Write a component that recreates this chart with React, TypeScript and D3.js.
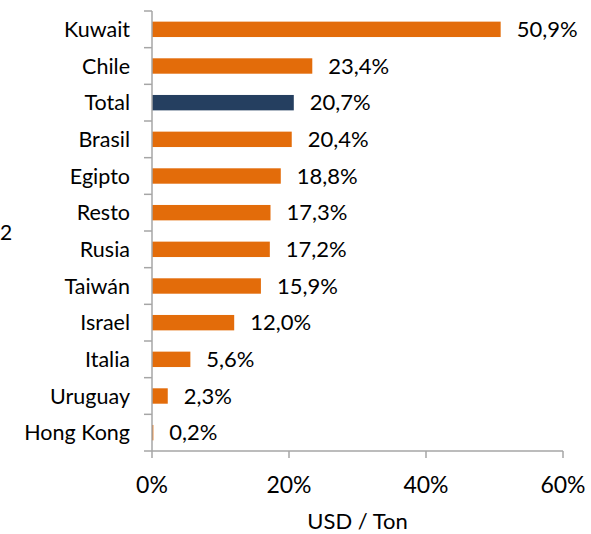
import React, { useEffect, useRef } from 'react';
import * as d3 from 'd3';

// values (percent)
const categories = ['Kuwait', 'Chile', 'Total', 'Brasil', 'Egipto', 'Resto', 'Rusia', 'Taiwán', 'Israel', 'Italia', 'Uruguay', 'Hong Kong'];
const values = [50.9, 23.4, 20.7, 20.4, 18.8, 17.3, 17.2, 15.9, 12.0, 5.6, 2.3, 0.2];
const highlight = ['Total'];
const xTicks = [0, 20, 40, 60];
const xTitle = 'USD / Ton';

const W = 591;
const H = 534;
const FONT = 'Lato, "DejaVu Sans", sans-serif';

export default function App() {
    const ref = useRef<SVGSVGElement>(null);

    useEffect(() => {
        const svg = d3.select(ref.current);
        svg.selectAll('*').remove();

        const x = d3.scaleLinear().domain([0, 60]).range([152, 563]);
        const y = d3.scaleBand().domain(categories).range([11, 451]).paddingInner(0.58).paddingOuter(0.29);
        const step = y.step();
        const grey = '#a6a6a6';

        // bars
        svg.append('g')
            .selectAll('rect')
            .data(categories)
            .enter()
            .append('rect')
            .attr('x', x(0))
            .attr('y', (d) => y(d))
            .attr('width', (d, i) => x(values[i]) - x(0))
            .attr('height', y.bandwidth())
            .attr('fill', (d) => (highlight.includes(d) ? '#253f60' : '#e36c0a'));

        // value labels
        svg.append('g')
            .selectAll('text')
            .data(categories)
            .enter()
            .append('text')
            .attr('x', (d, i) => x(values[i]) + 16)
            .attr('y', (d) => y(d) + y.bandwidth() / 2)
            .attr('dy', '0.35em')
            .style('font-family', FONT)
            .style('font-size', '22px')
            .text((d, i) => values[i].toFixed(1).replace('.', ',') + '%');

        // y axis line + ticks at band edges
        const ax = svg.append('g').attr('stroke', grey).attr('stroke-width', 1.5);
        ax.append('line').attr('x1', x(0)).attr('x2', x(0)).attr('y1', 11).attr('y2', 451);
        d3.range(categories.length + 1).forEach((i) => {
            ax.append('line')
                .attr('x1', x(0) - 8)
                .attr('x2', x(0))
                .attr('y1', 11 + i * step)
                .attr('y2', 11 + i * step);
        });
        // x axis line + ticks
        ax.append('line').attr('x1', x(0)).attr('x2', x(60)).attr('y1', 451).attr('y2', 451);
        xTicks.forEach((t) => {
            ax.append('line').attr('x1', x(t)).attr('x2', x(t)).attr('y1', 451).attr('y2', 458);
        });

        // category labels
        svg.append('g')
            .selectAll('text')
            .data(categories)
            .enter()
            .append('text')
            .attr('x', 130)
            .attr('y', (d) => y(d) + y.bandwidth() / 2)
            .attr('dy', '0.35em')
            .attr('text-anchor', 'end')
            .style('font-family', FONT)
            .style('font-size', '21.5px')
            .text((d) => d);

        // x tick labels
        svg.append('g')
            .selectAll('text')
            .data(xTicks)
            .enter()
            .append('text')
            .attr('x', (d) => x(d))
            .attr('y', 485)
            .attr('dy', '0.35em')
            .attr('text-anchor', 'middle')
            .style('font-family', FONT)
            .style('font-size', '23px')
            .text((d) => d + '%');

        svg.append('text')
            .attr('x', (x(0) + x(60)) / 2)
            .attr('y', 521)
            .attr('dy', '0.35em')
            .attr('text-anchor', 'middle')
            .style('font-family', FONT)
            .style('font-size', '22px')
            .text(xTitle);

        // leftover label at the left edge
        svg.append('text')
            .attr('x', 0)
            .attr('y', 233)
            .attr('dy', '0.35em')
            .attr('text-anchor', 'start')
            .style('font-family', FONT)
            .style('font-size', '21px')
            .text('2');
    }, []);

    return (
        <svg
            ref={ref}
            width={W}
            height={H}
            style={{ position: 'absolute', left: 0, top: 0, background: '#fff' }}
        />
    );
}
